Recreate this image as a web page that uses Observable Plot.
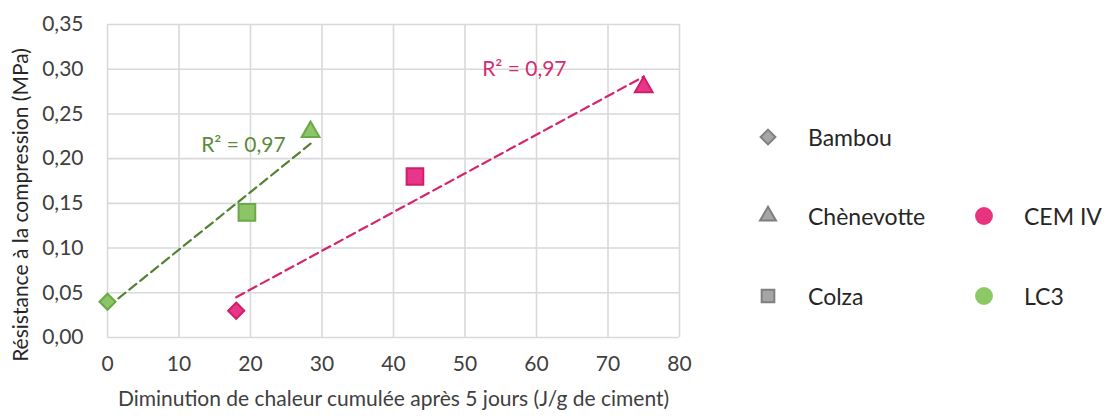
<!DOCTYPE html>
<html>
<head>
<meta charset="utf-8">
<script src="https://cdn.jsdelivr.net/npm/d3@7"></script>
<script src="https://cdn.jsdelivr.net/npm/@observablehq/plot@0.6"></script>
<style>
  html, body { margin: 0; padding: 0; background: #fff; }
  #wrap { position: relative; width: 1106px; height: 419px; font-family: Lato, "Open Sans", sans-serif; }
  #legend { position: absolute; left: 0; top: 0; width: 1106px; height: 419px; pointer-events: none; }
  .lg { position: absolute; display: flex; align-items: center; font-size: 23px; color: #262626; }
  .lg svg { overflow: visible; position: absolute; left: -9px; }
  .lg span { position: absolute; left: 40px; white-space: nowrap; }
</style>
</head>
<body>
<div id="wrap"><div id="chart"></div><div id="legend"></div></div>
<script>
// ---- data ----
const materials = ["Bambou", "Chènevotte", "Colza"];
const cements = ["CEM IV", "LC3"];
const cemIVHeat = [18, 75, 43];
const cemIVStrength = [0.03, 0.28, 0.18];
const lc3Heat = [0, 28.4, 19.5];
const lc3Strength = [0.04, 0.23, 0.14];
const r2Labels = ["R² = 0,97", "R² = 0,97"];
const r2Heat = [58.3, 19.0];
const r2Strength = [0.300, 0.215];
const xTicks = [0, 10, 20, 30, 40, 50, 60, 70, 80];
const yTicks = [0, 0.05, 0.10, 0.15, 0.20, 0.25, 0.30, 0.35];
const xTitle = "Diminution de chaleur cumulée après 5 jours (J/g de ciment)";
const yTitle = "Résistance à la compression (MPa)";

// ---- styles ----
const style = {
  "CEM IV": {fill: "#e8378a", stroke: "#cf1f69", line: "#d6246f", text: "#d42d72"},
  "LC3": {fill: "#8cc466", stroke: "#6aa948", line: "#548235", text: "#5a8a3a"}
};
const rOf = {"Bambou": 7.3, "Chènevotte": 6.6, "Colza": 9.4};

const rows = [];
materials.forEach((m, i) => {
  rows.push({cement: "CEM IV", material: m, heat: cemIVHeat[i], strength: cemIVStrength[i]});
  rows.push({cement: "LC3", material: m, heat: lc3Heat[i], strength: lc3Strength[i]});
});
const notes = cements.map((c, i) => ({cement: c, label: r2Labels[i], heat: r2Heat[i], strength: r2Strength[i]}));

const fmt = d => d.toFixed(2).replace(".", ",");
const font = "Lato, 'Open Sans', sans-serif";

const marks = [
  Plot.gridX(xTicks, {stroke: "#d9d9d9", strokeOpacity: 1, strokeWidth: 1.6}),
  Plot.gridY(yTicks, {stroke: "#d9d9d9", strokeOpacity: 1, strokeWidth: 1.6}),
  Plot.axisX(xTicks, {tickSize: 0, tickPadding: 19, tickFormat: d => String(d), fontSize: 21, fill: "#404040", label: null}),
  Plot.axisY(yTicks, {tickSize: 0, tickPadding: 24, tickFormat: fmt, fontSize: 21, fill: "#404040", label: null}),
  Plot.text([xTitle], {frameAnchor: "bottom", dy: 68, fontSize: 21, fill: "#404040", text: d => d}),
  Plot.text([yTitle], {frameAnchor: "left", textAnchor: "middle", dx: -86, dy: 24, rotate: -90, fontSize: 21, fill: "#262626", text: d => d})
];
for (const c of cements) {
  const sub = rows.filter(d => d.cement === c);
  marks.push(Plot.linearRegressionY(sub, {x: "heat", y: "strength", ci: 0, stroke: style[c].line, strokeWidth: 2.2, strokeDasharray: "9,5"}));
}
for (const c of cements) {
  const sub = rows.filter(d => d.cement === c);
  marks.push(Plot.dot(sub, {x: "heat", y: "strength", symbol: "material", r: d => rOf[d.material], fill: style[c].fill, stroke: style[c].stroke, strokeWidth: 2}));
}
for (const n of notes) {
  marks.push(Plot.text([n], {x: "heat", y: "strength", text: "label", fill: style[n.cement].text, fontSize: 21}));
}

const chart = Plot.plot({
  width: 1106,
  height: 419,
  marginLeft: 107,
  marginRight: 427,
  marginTop: 24,
  marginBottom: 82,
  style: {fontFamily: font, background: "#fff", overflow: "visible"},
  x: {domain: [0, 80], axis: null},
  y: {domain: [0, 0.35], axis: null},
  symbol: {domain: materials, range: ["diamond2", "triangle", "square"]},
  r: {type: "identity"},
  marks
});
document.getElementById("chart").appendChild(chart);

// ---- legend ----
const legend = document.getElementById("legend");
const legendItems = [
  {label: "Bambou", sym: d3.symbolDiamond2, size: 140, fill: "#a6a6a6", stroke: "#7f7f7f", left: 768, top: 137},
  {label: "Chènevotte", sym: d3.symbolTriangle, size: 110, fill: "#a6a6a6", stroke: "#7f7f7f", left: 768, top: 216},
  {label: "Colza", sym: d3.symbolSquare, size: 160, fill: "#a6a6a6", stroke: "#7f7f7f", left: 768, top: 296},
  {label: "CEM IV", sym: d3.symbolCircle, size: 250, fill: "#e8337f", stroke: "none", left: 984, top: 216},
  {label: "LC3", sym: d3.symbolCircle, size: 250, fill: "#8cc866", stroke: "none", left: 984, top: 296}
];
for (const it of legendItems) {
  const div = document.createElement("div");
  div.className = "lg";
  div.style.left = it.left + "px";
  div.style.top = (it.top - 15) + "px";
  div.style.height = "30px";
  const path = d3.symbol(it.sym, it.size)();
  div.innerHTML = `<svg width="18" height="18" viewBox="-9 -9 18 18"><path d="${path}" fill="${it.fill}" stroke="${it.stroke}" stroke-width="2"/></svg><span>${it.label}</span>`;
  legend.appendChild(div);
}
</script>
</body>
</html>
